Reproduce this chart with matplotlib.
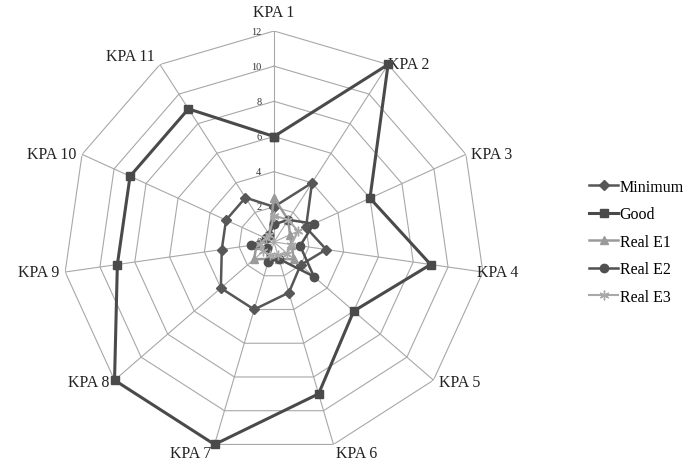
import numpy as np
import matplotlib
matplotlib.use("Agg")
import matplotlib.pyplot as plt

categories = ["KPA 1", "KPA 2", "KPA 3", "KPA 4", "KPA 5", "KPA 6",
              "KPA 7", "KPA 8", "KPA 9", "KPA 10", "KPA 11"]
minimum = [2, 4, 2, 3, 2, 3, 4, 4, 3, 3, 3]
good = [6, 12, 6, 9, 6, 9, 12, 12, 9, 9, 9]
real_e1 = [2.5, 1.5, 1, 1, 1.5, 1, 1, 1.5, 1, 0.5, 0.5]
real_e2 = [1, 1.5, 2.5, 1.5, 3, 1, 1.2, 0.5, 1.3, 0.5, 0.5]
real_e3 = [1.5, 1.5, 1.5, 1, 1, 0.8, 0.8, 0.8, 0.8, 0.5, 0.5]
ticks = [0, 2, 4, 6, 8, 10, 12]

plt.rcParams['font.family'] = ['Liberation Serif', 'DejaVu Serif']

W, H = 687, 464
fig = plt.figure(figsize=(W / 100, H / 100), dpi=100)
cx, cy, R = 274, 243, 211
ax = fig.add_axes([(cx - R) / W, 1 - (cy + R) / H, 2 * R / W, 2 * R / H], polar=True)
ax.set_theta_zero_location('N')
ax.set_theta_direction(-1)
ax.set_ylim(0, 12)
ax.grid(False)
ax.set_xticks([])
ax.set_yticks([])
ax.spines['polar'].set_visible(False)
ax.patch.set_alpha(0)

n = len(categories)
ang = np.linspace(0, 2 * np.pi, n, endpoint=False)
angc = np.append(ang, ang[0])

gc = '#a8a8a8'
for r in ticks[1:]:
    ax.plot(angc, [r] * (n + 1), color=gc, lw=0.8, zorder=1)
for a in ang:
    ax.plot([a, a], [0, 12], color=gc, lw=0.8, zorder=1)

for r in ticks:
    ax.annotate(str(r), (0, r), xytext=(-9, 0), textcoords='offset points',
                ha='right', va='center', fontsize=7.5, color='#333333')

# label offsets (points) per category
offs = [(0, 8), (0, 0), (4, 0), (-4, 0), (4, -1), (2, -6),
        (-2, -6), (-4, -1), (-4, 0), (-4, 0), (-4, 6)]
for a, lab, (ox, oy) in zip(ang, categories, offs):
    s = np.sin(a)
    ha = 'left' if s > 0.15 else ('right' if s < -0.15 else 'center')
    if lab == "KPA 4":
        ha = 'left'
    va = 'bottom' if lab == "KPA 1" else 'center'
    ax.annotate(lab, (a, 12), xytext=(ox, oy), textcoords='offset points',
                ha=ha, va=va, fontsize=11.5, color='#222222', annotation_clip=False)

def closed(v):
    return list(v) + [v[0]]

series = [
    ("Minimum", minimum, '#575757', 'D', 5, 1.8),
    ("Good", good, '#4a4a4a', 's', 6, 2.2),
    ("Real E1", real_e1, '#9a9a9a', '^', 6, 1.8),
    ("Real E2", real_e2, '#505050', 'o', 6, 1.8),
    ("Real E3", real_e3, '#a8a8a8', (6, 2, 0), 7, 1.5),
]
handles = []
for name, vals, col, mk, ms, lw in series:
    h, = ax.plot(angc, closed(vals), color=col, marker=mk, markersize=ms, lw=lw,
                 label=name, zorder=3, clip_on=False)
    handles.append(h)

fig.legend(handles=handles, loc='center left', bbox_to_anchor=(583 / W, 1 - 243 / H),
           frameon=False, fontsize=11.5, handlelength=1.8, handletextpad=0.1,
           labelspacing=0.72, borderaxespad=0)

fig.savefig("out.png", dpi=100)
